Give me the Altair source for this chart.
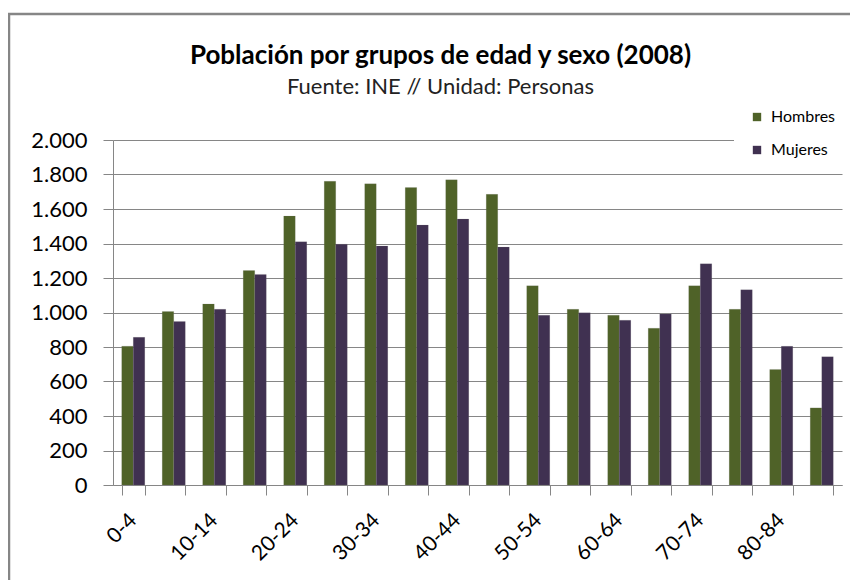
import altair as alt
import pandas as pd

grupos = ["0-4", "5-9", "10-14", "15-19", "20-24", "25-29", "30-34", "35-39",
          "40-44", "45-49", "50-54", "55-59", "60-64", "65-69", "70-74",
          "75-79", "80-84", "85+"]
hombres = [805, 1006, 1050, 1243, 1559, 1761, 1746, 1724, 1769, 1685,
           1155, 1019, 984, 909, 1155, 1019, 670, 447]
mujeres = [856, 948, 1019, 1221, 1410, 1396, 1386, 1507, 1542, 1379,
           984, 998, 955, 992, 1282, 1132, 804, 744]
series = ["Hombres", "Mujeres"]
colores = ["#4F6228", "#403151"]
etiquetas_x = ["0-4", "10-14", "20-24", "30-34", "40-44", "50-54", "60-64", "70-74", "80-84"]
ticks_y = [0, 200, 400, 600, 800, 1000, 1200, 1400, 1600, 1800, 2000]

rows = []
for g, h, m in zip(grupos, hombres, mujeres):
    rows.append({"grupo": g, "sexo": series[0], "valor": h})
    rows.append({"grupo": g, "sexo": series[1], "valor": m})
df = pd.DataFrame(rows)

FONT = "Lato"
GRAY = "#868686"

label_list = "[" + ",".join("'" + s + "'" for s in etiquetas_x) + "]"

bars = alt.Chart(df).mark_bar(stroke="#7f7f7f", strokeWidth=0.3, strokeOpacity=0.5).encode(
    x=alt.X("grupo:N", sort=grupos, title=None,
            scale=alt.Scale(paddingInner=0.43, paddingOuter=0.215),
            axis=alt.Axis(labelAngle=-45, labelAlign="right", labelBaseline="middle",
                          labelFontSize=21, labelFont=FONT, labelColor="#000000",
                          labelPadding=22, tickSize=10, tickColor=GRAY, domainColor=GRAY,
                          tickBand="extent", labelOverlap=False,
                          labelExpr="indexof(" + label_list + ", datum.label) >= 0 ? datum.label : ''")),
    xOffset=alt.XOffset("sexo:N", sort=series),
    y=alt.Y("valor:Q", title=None,
            scale=alt.Scale(domain=[0, 2000], nice=False),
            axis=alt.Axis(values=ticks_y, labelFontSize=22, labelFont=FONT, labelColor="#000000",
                          labelPadding=16, tickSize=10, tickColor=GRAY, domainColor=GRAY,
                          gridColor=GRAY, gridWidth=1,
                          labelExpr="replace(format(datum.value, ','), ',', '.')")),
    color=alt.Color("sexo:N", sort=series, title=None,
                    scale=alt.Scale(domain=series, range=colores),
                    legend=alt.Legend(orient="none", legendX=621, legendY=-46,
                                      symbolType="square", symbolSize=70, symbolStrokeWidth=0,
                                      labelFontSize=16, labelFont=FONT, labelColor="#000000",
                                      rowPadding=17, padding=15, fillColor="white",
                                      labelOffset=6)),
)

frame_df = pd.DataFrame({"a": [0]})
frame = alt.Chart(frame_df).mark_rect(fill=None, stroke=GRAY, strokeWidth=2.5).encode(
    x=alt.value(-104), x2=alt.value(760), y=alt.value(-126), y2=alt.value(460)
)

chart = alt.layer(frame, bars).properties(
    width=729, height=345,
    title=alt.TitleParams(text="Población por grupos de edad y sexo (2008)",
                          subtitle="Fuente: INE // Unidad: Personas",
                          anchor="middle", frame="group", dx=-37,
                          font=FONT, fontSize=26, fontWeight="bold", color="#000000",
                          subtitleFont=FONT, subtitleFontSize=22, subtitleColor="#222222",
                          subtitlePadding=8, offset=-85),
    autosize=alt.AutoSizeParams(type="none"),
    padding={"left": 105, "top": 132, "right": 8, "bottom": 95},
).configure_view(stroke=None).configure_axis(domainWidth=1, tickWidth=1)

chart.save("out.html", embed_options={"renderer": "svg", "actions": False})
